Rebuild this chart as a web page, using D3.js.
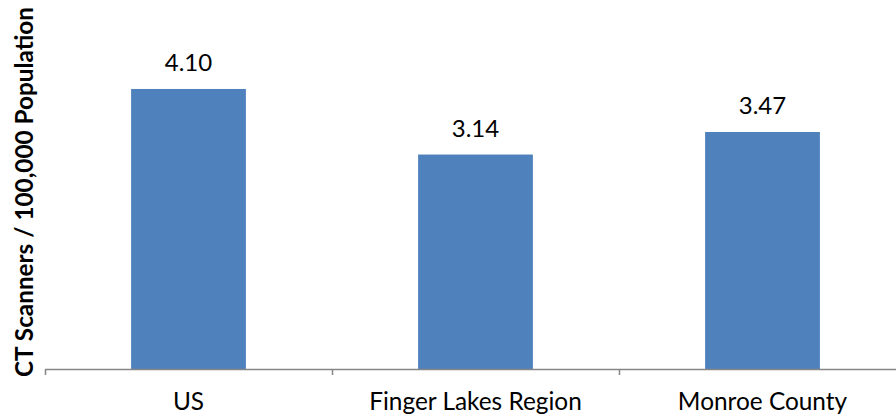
<!DOCTYPE html>
<html>
<head>
<meta charset="utf-8">
<script src="https://cdn.jsdelivr.net/npm/d3@7"></script>
<style>
  html, body { margin: 0; padding: 0; background: #fff; }
  svg { display: block; }
  text { font-family: Lato, "Open Sans", sans-serif; fill: #000; }
</style>
</head>
<body>
<svg id="chart" width="896" height="417"></svg>
<script>
// CT scanner availability per 100,000 population
const categories = ["US", "Finger Lakes Region", "Monroe County"];
const values = [4.10, 3.14, 3.47];
const valueLabels = ["4.10", "3.14", "3.47"];
const yTitle = "CT Scanners / 100,000 Population";

const svg = d3.select("#chart");
const margin = { left: 45, top: 0, baseline: 369 };
const step = 287;

const x = d3.scaleBand()
  .domain(categories)
  .range([margin.left, margin.left + step * categories.length])
  .paddingInner(0.6)
  .paddingOuter(0.3);

const y = d3.scaleLinear()
  .domain([0, 4.5])
  .range([margin.baseline, margin.baseline - 4.5 * 68.3]);

// bars
svg.append("g").selectAll("rect")
  .data(categories)
  .join("rect")
  .attr("x", d => x(d))
  .attr("width", x.bandwidth())
  .attr("y", (d, i) => y(values[i]))
  .attr("height", (d, i) => y(0) - y(values[i]))
  .attr("fill", "#4F81BD");

// category axis line
svg.append("line")
  .attr("x1", margin.left).attr("x2", 896)
  .attr("y1", margin.baseline + 0.5).attr("y2", margin.baseline + 0.5)
  .attr("stroke", "#868686").attr("stroke-width", 1.5);

// tick marks at category boundaries
const boundaries = d3.range(categories.length + 1).map(i => margin.left + i * step);
svg.append("g").selectAll("line")
  .data(boundaries)
  .join("line")
  .attr("x1", d => d + 0.5).attr("x2", d => d + 0.5)
  .attr("y1", margin.baseline).attr("y2", margin.baseline + 6)
  .attr("stroke", "#868686").attr("stroke-width", 1.5);

// category labels
svg.append("g").selectAll("text")
  .data(categories)
  .join("text")
  .attr("x", d => x(d) + x.bandwidth() / 2)
  .attr("y", 410)
  .attr("text-anchor", "middle")
  .style("font-size", "24.4px")
  .text(d => d);

// value labels
svg.append("g").selectAll("text")
  .data(categories)
  .join("text")
  .attr("x", d => x(d) + x.bandwidth() / 2)
  .attr("y", (d, i) => y(values[i]) - 18)
  .attr("text-anchor", "middle")
  .style("font-size", "24px")
  .text((d, i) => valueLabels[i]);

// y-axis title
svg.append("text")
  .attr("transform", "translate(33,192) rotate(-90)")
  .attr("text-anchor", "middle")
  .style("font-size", "24.3px")
  .style("font-weight", "bold")
  .text(yTitle);
</script>
</body>
</html>
